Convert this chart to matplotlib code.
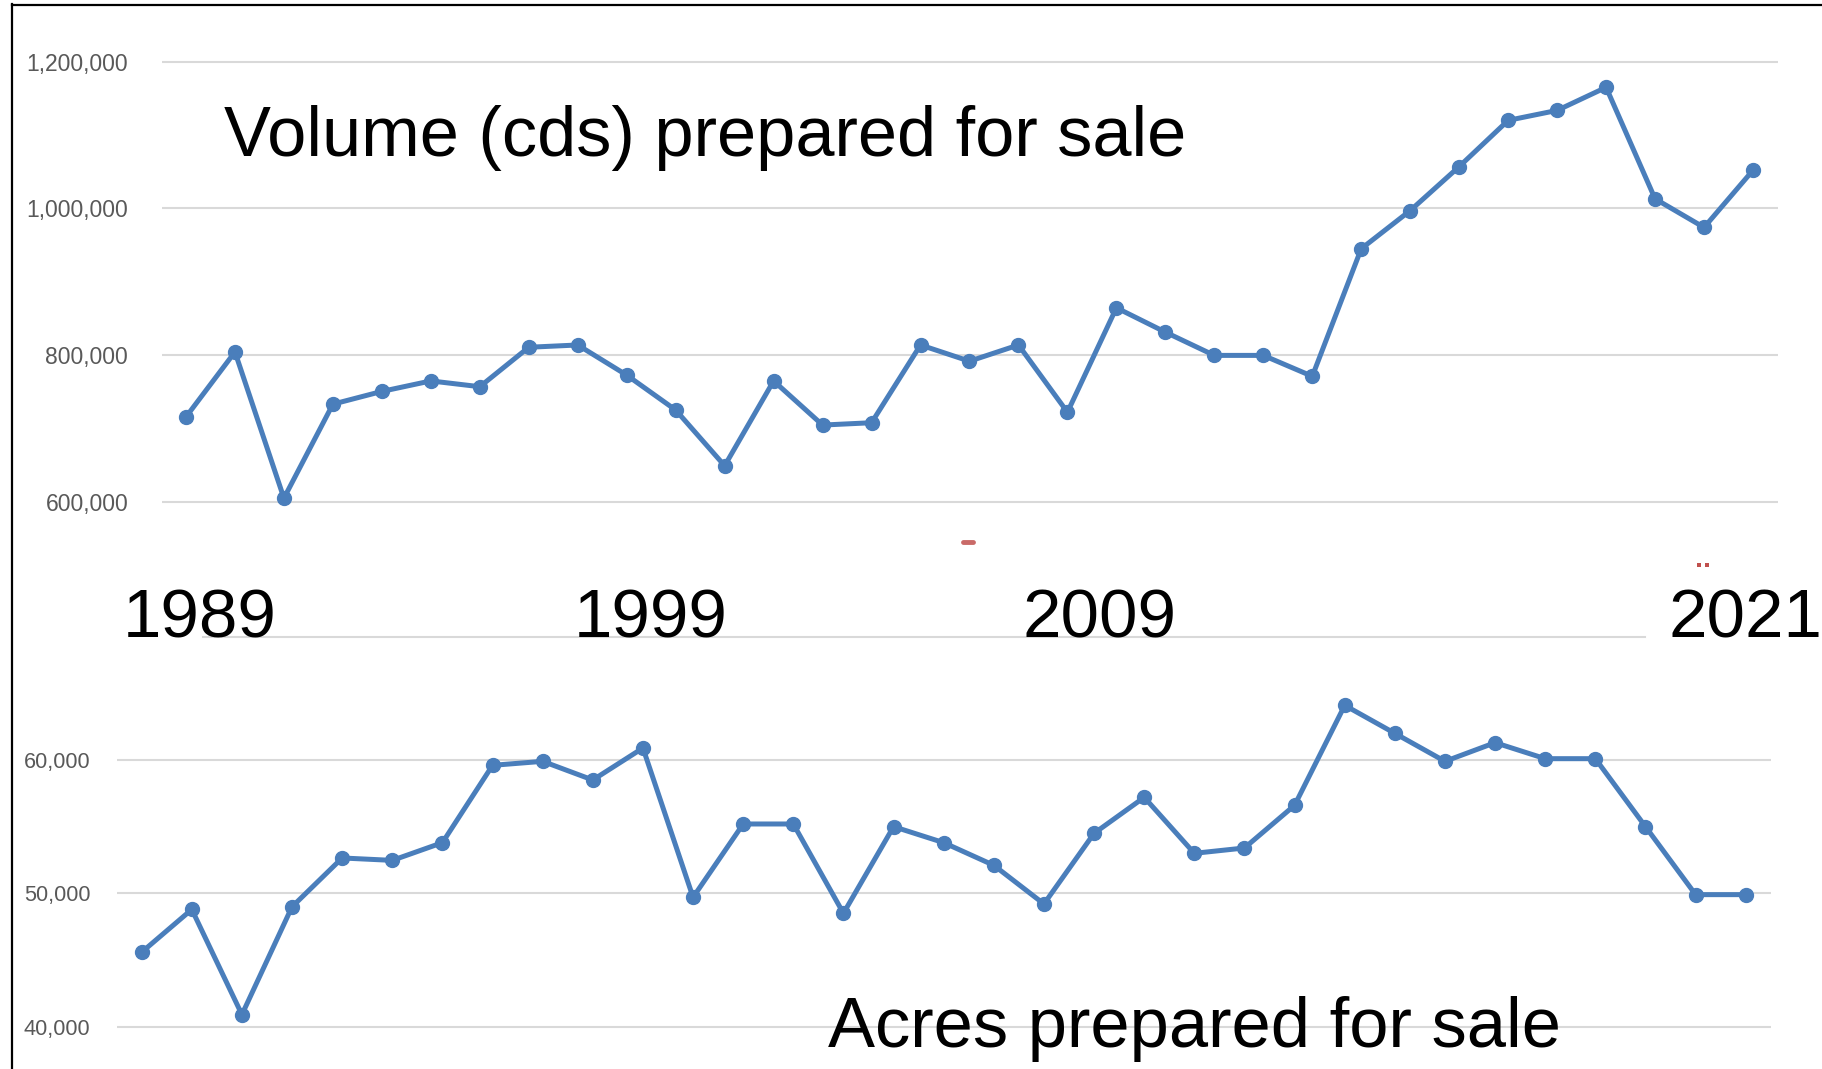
import matplotlib
matplotlib.use("Agg")
import matplotlib.pyplot as plt
from matplotlib.lines import Line2D

# ---------------- data ----------------
years = list(range(1989, 2022))
volume_cds = [715600, 804200, 604800, 733000, 750400, 764700, 756800, 810600,
              813700, 772600, 725000, 649000, 764700, 704500, 707700, 813700,
              791600, 813700, 722000, 864400, 831200, 799500, 799500, 771000,
              945000, 997000, 1057000, 1120000, 1133600, 1165000, 1013000,
              974000, 1052000]
acres = [45580, 48790, 40900, 48990, 52650, 52470, 53800, 59600, 59900, 58500,
         60900, 49700, 55200, 55200, 48500, 55000, 53800, 52100, 49200, 54500,
         57200, 53000, 53400, 56600, 64100, 62000, 59900, 61300, 60100, 60100,
         55000, 49900, 49900]
vol_ticks = [600000, 800000, 1000000, 1200000]
acre_ticks = [40000, 50000, 60000]
year_labels = ["1989", "1999", "2009", "2021"]
title_top = "Volume (cds) prepared for sale"
title_bottom = "Acres prepared for sale"

W, H = 1822, 1069
FONT = ["Liberation Sans", "DejaVu Sans"]
BLUE = "#4A7EBB"
GRID = "#D9D9D9"
LABEL = "#595959"

fig = plt.figure(figsize=(W / 100, H / 100), dpi=100)
fig.patch.set_facecolor("white")


def fx(x):
    return x / W


def fy(y):
    return 1 - y / H


def make_axes(left, right, top, bottom, v_at, y1, y2):
    ax = fig.add_axes([fx(left), fy(bottom), (right - left) / W, (bottom - top) / H])
    (v1, p1), (v2, p2) = v_at
    slope = (v2 - v1) / (p2 - p1)
    ax.set_ylim(v1 + (bottom - p1) * slope, v1 + (top - p1) * slope)
    ax.set_xlim(y1 - 0.5, y2 + 0.5)
    for s in ax.spines.values():
        s.set_visible(False)
    ax.set_xticks([])
    ax.tick_params(axis="y", length=0, colors=LABEL)
    ax.yaxis.grid(True, color=GRID, lw=1.5)
    ax.set_axisbelow(True)
    ax.patch.set_alpha(0)
    return ax


# ---------------- top chart ----------------
ax1 = make_axes(161.5, 1777.5, 40, 530, ((1200000, 61.7), (600000, 501.7)), 1989, 2021)
ax1.plot(years, volume_cds, color=BLUE, lw=3.6, marker="o", ms=10, clip_on=False, zorder=3)
ax1.set_yticks(vol_ticks)
ax1.set_yticklabels([f"{v:,}" for v in vol_ticks], family=FONT, fontsize=16.5, color=LABEL)
ax1.tick_params(axis="y", pad=24)

# ---------------- bottom chart ----------------
ax2 = make_axes(116.6, 1770.8, 650, 1069, ((60000, 760.0), (50000, 893.3)), 1989, 2021)
ax2.plot(years, acres, color=BLUE, lw=3.6, marker="o", ms=10, clip_on=False, zorder=3)
ax2.set_yticks(acre_ticks)
ax2.set_yticklabels([f"{v:,}" for v in acre_ticks], family=FONT, fontsize=15.7, color=LABEL)
ax2.tick_params(axis="y", pad=19)

# ---------------- decorations ----------------
fig.add_artist(Line2D([fx(203), fx(1645)], [fy(637), fy(637)], color=GRID, lw=1.5))
fig.add_artist(Line2D([fx(11.5), fx(11.5)], [fy(4), fy(H)], color="black", lw=1.6))
fig.add_artist(Line2D([fx(11.5), fx(W)], [fy(5), fy(5)], color="black", lw=1.6))
fig.add_artist(Line2D([fx(963), fx(973)], [fy(542), fy(542)], color="#C0504D", lw=3.5,
                      solid_capstyle="round", alpha=0.85))
fig.add_artist(Line2D([fx(1699), fx(1707)], [fy(565), fy(565)], color="#C0504D", lw=0,
                      marker="s", ms=2.2, mew=0))

# ---------------- texts ----------------
fig.text(fx(224), fy(156), title_top, family=FONT, fontsize=50.7, color="black", va="baseline", ha="left")
fig.text(fx(828), fy(1047), title_bottom, family=FONT, fontsize=50.8, color="black", va="baseline", ha="left")
for lab, x in zip(year_labels, [123, 574, 1022, 1668]):
    fig.text(fx(x), fy(638), lab, family=FONT, fontsize=49.8, color="black", va="baseline", ha="left")

fig.savefig("out.png", dpi=100, facecolor="white")
